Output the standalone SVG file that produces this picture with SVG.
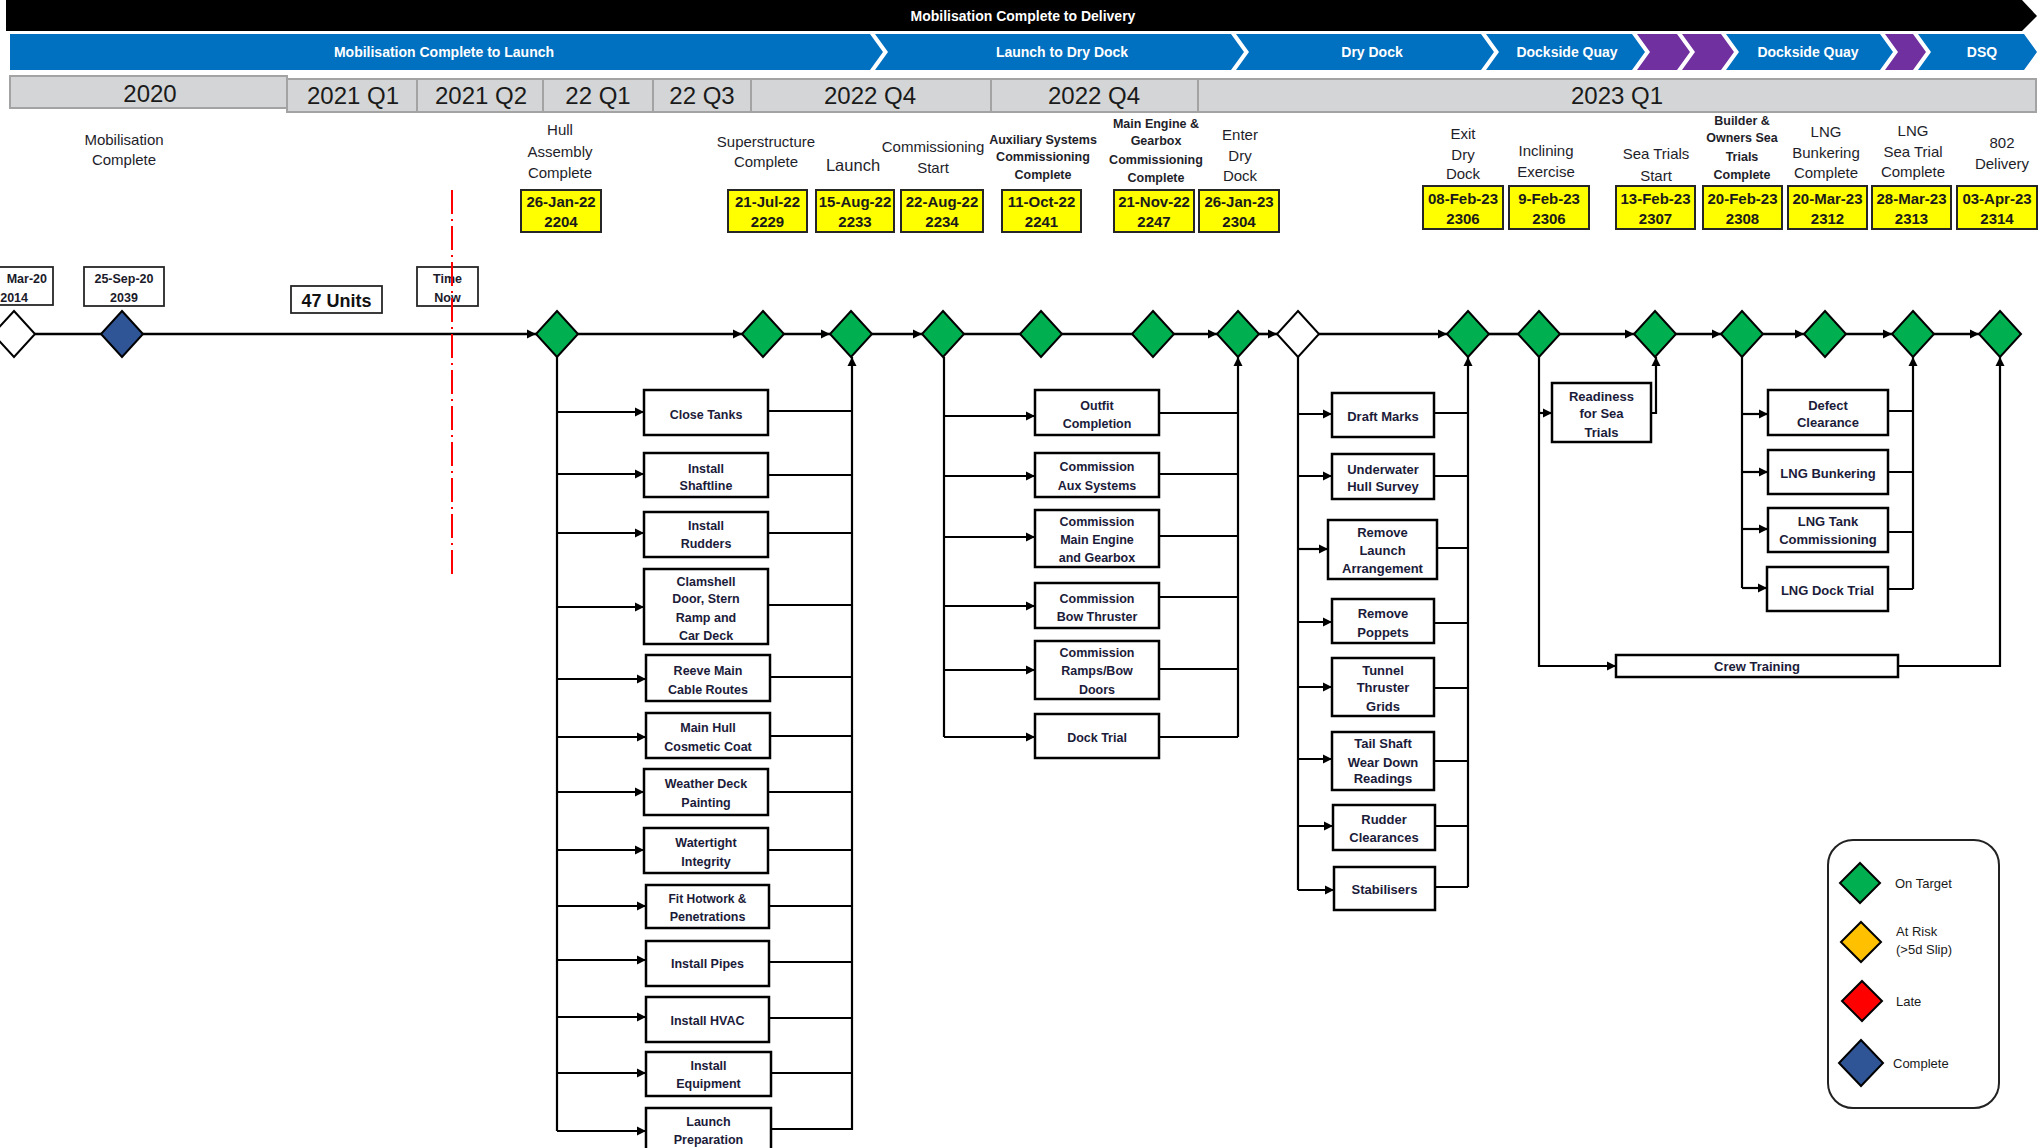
<svg xmlns="http://www.w3.org/2000/svg" width="2038" height="1148" viewBox="0 0 2038 1148">
<style>
text{font-family:"Liberation Sans",Arial,sans-serif}
.hd{fill:#fff;font-size:14px;font-weight:bold;text-anchor:middle}
.blue{fill:#0070C0}
.purp{fill:#7030A0}
.cell{fill:#D3D5D6;stroke:#A3A3A3;stroke-width:2}
.q{font-size:24px;fill:#1a1a1a;text-anchor:middle}
.lb{font-size:15px;fill:#1e1e2a;text-anchor:middle}
.lbb{font-size:12.5px;font-weight:bold;fill:#1e1e2a;text-anchor:middle}
.yb{fill:#FFFF00;stroke:#262626;stroke-width:2}
.yt{font-size:15px;font-weight:bold;fill:#1a1a1a;text-anchor:middle}
.wb{fill:#fff;stroke:#262626;stroke-width:1.8}
.st{font-size:12.5px;font-weight:bold;fill:#1a1a2a;text-anchor:middle}
.tb{fill:#fff;stroke:#000;stroke-width:2.5}
.tt{font-size:12.5px;font-weight:bold;fill:#1b1b3a;text-anchor:middle}
.t2{font-size:13px;font-weight:bold;fill:#1b1b3a;text-anchor:middle}
.g{fill:#00B050;stroke:#000;stroke-width:2}
.w{fill:#fff;stroke:#000;stroke-width:2}
.c{fill:#2F5597;stroke:#000;stroke-width:2}
.y{fill:#FFC000;stroke:#000;stroke-width:2}
.r{fill:#FF0000;stroke:#000;stroke-width:2}
.ln{fill:none;stroke:#000;stroke-width:2.2}
.mn{fill:none;stroke:#000;stroke-width:2.6}
.lg{font-size:13px;fill:#1a1a1a}
</style>
<defs>
<marker id="ah" viewBox="0 0 10 10" refX="10" refY="5" markerWidth="9" markerHeight="10" markerUnits="userSpaceOnUse" orient="auto"><path d="M0,0 L10,5 L0,10 z" fill="#000"/></marker>
<polygon id="d" points="0,-23 21,0 0,23 -21,0"/>
</defs>

<g id="header">
<polygon points="6,0 2022,0 2037,16 2022,31 6,31" fill="#000"/>
<text class="hd" x="1023" y="21">Mobilisation Complete to Delivery</text>
<polygon class="blue" points="10,34 870,34 883,52 870,70 10,70"/>
<polygon class="blue" points="875,34 1231,34 1244,52 1231,70 875,70 888,52"/>
<polygon class="blue" points="1236,34 1481,34 1494,52 1481,70 1236,70 1249,52"/>
<polygon class="blue" points="1486,34 1632,34 1645,52 1632,70 1486,70 1499,52"/>
<polygon class="purp" points="1637,34 1677,34 1690,52 1677,70 1637,70 1650,52"/>
<polygon class="purp" points="1682,34 1721,34 1734,52 1721,70 1682,70 1695,52"/>
<polygon class="blue" points="1726,34 1880,34 1893,52 1880,70 1726,70 1739,52"/>
<polygon class="purp" points="1885,34 1913,34 1926,52 1913,70 1885,70 1898,52"/>
<polygon class="blue" points="1918,34 2024,34 2037,52 2024,70 1918,70 1931,52"/>
<text class="hd" x="444" y="57">Mobilisation Complete to Launch</text>
<text class="hd" x="1062" y="57">Launch to Dry Dock</text>
<text class="hd" x="1372" y="57">Dry Dock</text>
<text class="hd" x="1567" y="57">Dockside Quay</text>
<text class="hd" x="1808" y="57">Dockside Quay</text>
<text class="hd" x="1982" y="57">DSQ</text>
</g>

<g id="quarters">
<rect class="cell" x="10" y="76" width="277" height="32"/>
<rect class="cell" x="287" y="79" width="130" height="33"/>
<rect class="cell" x="417" y="79" width="126" height="33"/>
<rect class="cell" x="543" y="79" width="110" height="33"/>
<rect class="cell" x="653" y="79" width="98" height="33"/>
<rect class="cell" x="751" y="79" width="240" height="33"/>
<rect class="cell" x="991" y="79" width="207" height="33"/>
<rect class="cell" x="1198" y="79" width="838" height="33"/>
<text class="q" x="150" y="102">2020</text>
<text class="q" x="353" y="104">2021 Q1</text>
<text class="q" x="481" y="104">2021 Q2</text>
<text class="q" x="598" y="104">22 Q1</text>
<text class="q" x="702" y="104">22 Q3</text>
<text class="q" x="870" y="104">2022 Q4</text>
<text class="q" x="1094" y="104">2022 Q4</text>
<text class="q" x="1617" y="104">2023 Q1</text>
</g>

<g id="connectors">
<path class="mn" d="M35,334 H101"/>
<path class="mn" d="M143,334 H536" marker-end="url(#ah)"/>
<path class="mn" d="M578,334 H742" marker-end="url(#ah)"/>
<path class="mn" d="M784,334 H830" marker-end="url(#ah)"/>
<path class="mn" d="M872,334 H922" marker-end="url(#ah)"/>
<path class="mn" d="M964,334 H1020"/>
<path class="mn" d="M1062,334 H1132"/>
<path class="mn" d="M1174,334 H1217" marker-end="url(#ah)"/>
<path class="mn" d="M1259,334 H1277" marker-end="url(#ah)"/>
<path class="mn" d="M1319,334 H1447" marker-end="url(#ah)"/>
<path class="mn" d="M1489,334 H1518"/>
<path class="mn" d="M1560,334 H1634" marker-end="url(#ah)"/>
<path class="mn" d="M1676,334 H1721" marker-end="url(#ah)"/>
<path class="mn" d="M1763,334 H1804" marker-end="url(#ah)"/>
<path class="mn" d="M1846,334 H1892" marker-end="url(#ah)"/>
<path class="mn" d="M1934,334 H1979" marker-end="url(#ah)"/>

<path class="ln" d="M557,357 V1131"/>
<path class="ln" d="M557,412 H644" marker-end="url(#ah)"/>
<path class="ln" d="M557,474 H644" marker-end="url(#ah)"/>
<path class="ln" d="M557,533 H644" marker-end="url(#ah)"/>
<path class="ln" d="M557,607 H644" marker-end="url(#ah)"/>
<path class="ln" d="M557,679 H646" marker-end="url(#ah)"/>
<path class="ln" d="M557,737 H646" marker-end="url(#ah)"/>
<path class="ln" d="M557,792 H644" marker-end="url(#ah)"/>
<path class="ln" d="M557,850 H644" marker-end="url(#ah)"/>
<path class="ln" d="M557,906 H646" marker-end="url(#ah)"/>
<path class="ln" d="M557,960 H646" marker-end="url(#ah)"/>
<path class="ln" d="M557,1017 H646" marker-end="url(#ah)"/>
<path class="ln" d="M557,1073 H646" marker-end="url(#ah)"/>
<path class="ln" d="M557,1131 H646" marker-end="url(#ah)"/>
<path class="ln" d="M768,411 H852 M768,475 H852 M768,533 H852 M768,605 H852 M770,677 H852 M770,736 H852 M768,792 H852 M768,850 H852 M769,906 H852 M769,962 H852 M769,1018 H852 M771,1073 H852 M771,1129 H852"/>
<path class="ln" d="M852,1130 V357" marker-end="url(#ah)"/>

<path class="ln" d="M944,357 V737"/>
<path class="ln" d="M944,416 H1035" marker-end="url(#ah)"/>
<path class="ln" d="M944,476 H1035" marker-end="url(#ah)"/>
<path class="ln" d="M944,537 H1035" marker-end="url(#ah)"/>
<path class="ln" d="M944,606 H1035" marker-end="url(#ah)"/>
<path class="ln" d="M944,670 H1035" marker-end="url(#ah)"/>
<path class="ln" d="M944,737 H1035" marker-end="url(#ah)"/>
<path class="ln" d="M1159,413 H1238 M1159,474 H1238 M1159,536 H1238 M1159,597 H1238 M1159,669 H1238 M1159,737 H1238"/>
<path class="ln" d="M1238,737 V357" marker-end="url(#ah)"/>

<path class="ln" d="M1298,357 V890"/>
<path class="ln" d="M1298,414 H1332" marker-end="url(#ah)"/>
<path class="ln" d="M1298,476 H1332" marker-end="url(#ah)"/>
<path class="ln" d="M1298,549 H1328" marker-end="url(#ah)"/>
<path class="ln" d="M1298,622 H1332" marker-end="url(#ah)"/>
<path class="ln" d="M1298,687 H1332" marker-end="url(#ah)"/>
<path class="ln" d="M1298,759 H1332" marker-end="url(#ah)"/>
<path class="ln" d="M1298,826 H1333" marker-end="url(#ah)"/>
<path class="ln" d="M1298,890 H1334" marker-end="url(#ah)"/>
<path class="ln" d="M1434,413 H1468 M1434,476 H1468 M1437,548 H1468 M1434,623 H1468 M1434,688 H1468 M1434,761 H1468 M1435,826 H1468 M1435,887 H1468"/>
<path class="ln" d="M1468,887 V357" marker-end="url(#ah)"/>

<path class="ln" d="M1539,357 V666 H1616" marker-end="url(#ah)"/>
<path class="ln" d="M1539,413 H1552" marker-end="url(#ah)"/>
<path class="ln" d="M1651,413 H1656 V357" marker-end="url(#ah)"/>
<path class="ln" d="M1898,666 H2000 V357" marker-end="url(#ah)"/>

<path class="ln" d="M1742,357 V588"/>
<path class="ln" d="M1742,414 H1768" marker-end="url(#ah)"/>
<path class="ln" d="M1742,472 H1768" marker-end="url(#ah)"/>
<path class="ln" d="M1742,529 H1768" marker-end="url(#ah)"/>
<path class="ln" d="M1742,588 H1767" marker-end="url(#ah)"/>
<path class="ln" d="M1888,411 H1913 M1888,472 H1913 M1888,532 H1913 M1888,589 H1913"/>
<path class="ln" d="M1913,589 V357" marker-end="url(#ah)"/>
</g>

<g id="m-start">
<use href="#d" class="w" x="14" y="334"/>
<rect class="wb" x="-2" y="267" width="55" height="38"/>
<text class="st" style="text-anchor:end" x="47" y="282.5">Mar-20</text>
<text class="st" style="text-anchor:end" x="28" y="301.5">2014</text>
</g>
<g id="m-mobilisation">
<use href="#d" class="c" x="122" y="334"/>
<rect class="wb" x="84" y="267" width="80" height="39"/>
<text class="st" x="124" y="282.5">25-Sep-20</text>
<text class="st" x="124" y="301.5">2039</text>
<text class="lb" x="124" y="144.5">Mobilisation</text>
<text class="lb" x="124" y="164.5">Complete</text>
</g>
<g id="units">
<rect class="wb" x="291" y="286" width="91" height="27"/>
<text x="336.5" y="306.5" style="font-size:18px;font-weight:bold;fill:#111;text-anchor:middle">47 Units</text>
</g>
<g id="time-now">
<rect class="wb" x="417" y="267" width="61" height="39"/>
<text class="st" x="447.5" y="282.5">Time</text>
<text class="st" x="447.5" y="301.5">Now</text>
<path d="M452,190 V578" fill="none" stroke="#FF0000" stroke-width="2" stroke-dasharray="24,5,2,5"/>
</g>

<g id="m-hull">
<use href="#d" class="g" x="557" y="334"/>
<text class="lb" x="560" y="134.5">Hull</text>
<text class="lb" x="560" y="156.5">Assembly</text>
<text class="lb" x="560" y="177.5">Complete</text>
<rect class="yb" x="521" y="190" width="80" height="42"/>
<text class="yt" x="561" y="206.5">26-Jan-22</text>
<text class="yt" x="561" y="226.5">2204</text>
</g>
<g id="m-super">
<use href="#d" class="g" x="763" y="334"/>
<text class="lb" x="766" y="146.5">Superstructure</text>
<text class="lb" x="766" y="166.5">Complete</text>
<rect class="yb" x="728" y="190" width="79" height="42"/>
<text class="yt" x="767.5" y="206.5">21-Jul-22</text>
<text class="yt" x="767.5" y="226.5">2229</text>
</g>
<g id="m-launch">
<use href="#d" class="g" x="851" y="334"/>
<text class="lb" style="font-size:16.5px" x="853" y="171">Launch</text>
<rect class="yb" x="816" y="190" width="78" height="42"/>
<text class="yt" x="855" y="206.5">15-Aug-22</text>
<text class="yt" x="855" y="226.5">2233</text>
</g>
<g id="m-comm-start">
<use href="#d" class="g" x="943" y="334"/>
<text class="lb" x="933" y="151.5">Commissioning</text>
<text class="lb" x="933" y="172.5">Start</text>
<rect class="yb" x="901" y="190" width="82" height="42"/>
<text class="yt" x="942" y="206.5">22-Aug-22</text>
<text class="yt" x="942" y="226.5">2234</text>
</g>
<g id="m-aux">
<use href="#d" class="g" x="1041" y="334"/>
<text class="lbb" x="1043" y="143.5">Auxiliary Systems</text>
<text class="lbb" x="1043" y="160.5">Commissioning</text>
<text class="lbb" x="1043" y="178.5">Complete</text>
<rect class="yb" x="1002" y="190" width="79" height="42"/>
<text class="yt" x="1041.5" y="206.5">11-Oct-22</text>
<text class="yt" x="1041.5" y="226.5">2241</text>
</g>
<g id="m-main-engine">
<use href="#d" class="g" x="1153" y="334"/>
<text class="lbb" x="1156" y="127.5">Main Engine &amp;</text>
<text class="lbb" x="1156" y="144.5">Gearbox</text>
<text class="lbb" x="1156" y="163.5">Commissioning</text>
<text class="lbb" x="1156" y="181.5">Complete</text>
<rect class="yb" x="1114" y="190" width="80" height="42"/>
<text class="yt" x="1154" y="206.5">21-Nov-22</text>
<text class="yt" x="1154" y="226.5">2247</text>
</g>
<g id="m-enter-dd">
<use href="#d" class="g" x="1238" y="334"/>
<text class="lb" x="1240" y="139.5">Enter</text>
<text class="lb" x="1240" y="160.5">Dry</text>
<text class="lb" x="1240" y="180.5">Dock</text>
<rect class="yb" x="1199" y="190" width="80" height="42"/>
<text class="yt" x="1239" y="206.5">26-Jan-23</text>
<text class="yt" x="1239" y="226.5">2304</text>
</g>
<g id="m-dd-start">
<use href="#d" class="w" x="1298" y="334"/>
</g>
<g id="m-exit-dd">
<use href="#d" class="g" x="1468" y="334"/>
<text class="lb" x="1463" y="138.5">Exit</text>
<text class="lb" x="1463" y="159.5">Dry</text>
<text class="lb" x="1463" y="178.5">Dock</text>
<rect class="yb" x="1423" y="186" width="80" height="43"/>
<text class="yt" x="1463" y="203.5">08-Feb-23</text>
<text class="yt" x="1463" y="223.5">2306</text>
</g>
<g id="m-inclining">
<use href="#d" class="g" x="1539" y="334"/>
<text class="lb" x="1546" y="155.5">Inclining</text>
<text class="lb" x="1546" y="176.5">Exercise</text>
<rect class="yb" x="1509" y="186" width="80" height="43"/>
<text class="yt" x="1549" y="203.5">9-Feb-23</text>
<text class="yt" x="1549" y="223.5">2306</text>
</g>
<g id="m-sea-trials">
<use href="#d" class="g" x="1655" y="334"/>
<text class="lb" x="1656" y="158.5">Sea Trials</text>
<text class="lb" x="1656" y="180.5">Start</text>
<rect class="yb" x="1616" y="186" width="79" height="43"/>
<text class="yt" x="1655.5" y="203.5">13-Feb-23</text>
<text class="yt" x="1655.5" y="223.5">2307</text>
</g>
<g id="m-builder">
<use href="#d" class="g" x="1742" y="334"/>
<text class="lbb" x="1742" y="124.5">Builder &amp;</text>
<text class="lbb" x="1742" y="141.5">Owners Sea</text>
<text class="lbb" x="1742" y="160.5">Trials</text>
<text class="lbb" x="1742" y="178.5">Complete</text>
<rect class="yb" x="1703" y="186" width="79" height="43"/>
<text class="yt" x="1742.5" y="203.5">20-Feb-23</text>
<text class="yt" x="1742.5" y="223.5">2308</text>
</g>
<g id="m-lng-bunk">
<use href="#d" class="g" x="1825" y="334"/>
<text class="lb" x="1826" y="136.5">LNG</text>
<text class="lb" x="1826" y="157.5">Bunkering</text>
<text class="lb" x="1826" y="177.5">Complete</text>
<rect class="yb" x="1788" y="186" width="79" height="43"/>
<text class="yt" x="1827.5" y="203.5">20-Mar-23</text>
<text class="yt" x="1827.5" y="223.5">2312</text>
</g>
<g id="m-lng-sea">
<use href="#d" class="g" x="1913" y="334"/>
<text class="lb" x="1913" y="135.5">LNG</text>
<text class="lb" x="1913" y="156.5">Sea Trial</text>
<text class="lb" x="1913" y="176.5">Complete</text>
<rect class="yb" x="1872" y="186" width="79" height="43"/>
<text class="yt" x="1911.5" y="203.5">28-Mar-23</text>
<text class="yt" x="1911.5" y="223.5">2313</text>
</g>
<g id="m-delivery">
<use href="#d" class="g" x="2000" y="334"/>
<text class="lb" x="2002" y="147.5">802</text>
<text class="lb" x="2002" y="168.5">Delivery</text>
<rect class="yb" x="1957" y="186" width="80" height="43"/>
<text class="yt" x="1997" y="203.5">03-Apr-23</text>
<text class="yt" x="1997" y="223.5">2314</text>
</g>

<g id="t-close-tanks"><rect class="tb" x="644" y="390" width="124" height="45"/><text class="tt" x="706" y="418.5">Close Tanks</text></g>
<g id="t-shaftline"><rect class="tb" x="644" y="453" width="124" height="44"/><text class="tt" x="706" y="472.5">Install</text><text class="tt" x="706" y="489.5">Shaftline</text></g>
<g id="t-rudders"><rect class="tb" x="644" y="512" width="124" height="45"/><text class="tt" x="706" y="529.5">Install</text><text class="tt" x="706" y="547.5">Rudders</text></g>
<g id="t-clamshell"><rect class="tb" x="644" y="569" width="124" height="75"/><text class="tt" x="706" y="585.5">Clamshell</text><text class="tt" x="706" y="602.5">Door, Stern</text><text class="tt" x="706" y="621.5">Ramp and</text><text class="tt" x="706" y="639.5">Car Deck</text></g>
<g id="t-reeve"><rect class="tb" x="646" y="655" width="124" height="46"/><text class="tt" x="708" y="674.5">Reeve Main</text><text class="tt" x="708" y="693.5">Cable Routes</text></g>
<g id="t-cosmetic"><rect class="tb" x="646" y="713" width="124" height="45"/><text class="tt" x="708" y="731.5">Main Hull</text><text class="tt" x="708" y="750.5">Cosmetic Coat</text></g>
<g id="t-weather"><rect class="tb" x="644" y="769" width="124" height="46"/><text class="tt" x="706" y="787.5">Weather Deck</text><text class="tt" x="706" y="806.5">Painting</text></g>
<g id="t-watertight"><rect class="tb" x="644" y="828" width="124" height="45"/><text class="tt" x="706" y="846.5">Watertight</text><text class="tt" x="706" y="865.5">Integrity</text></g>
<g id="t-hotwork"><rect class="tb" x="646" y="885" width="123" height="43"/><text class="tt" style="font-size:12px" x="707.5" y="902.5">Fit Hotwork &amp;</text><text class="tt" x="707.5" y="920.5">Penetrations</text></g>
<g id="t-pipes"><rect class="tb" x="646" y="941" width="123" height="45"/><text class="tt" x="707.5" y="967.5">Install Pipes</text></g>
<g id="t-hvac"><rect class="tb" x="646" y="997" width="123" height="45"/><text class="tt" x="707.5" y="1024.5">Install HVAC</text></g>
<g id="t-equipment"><rect class="tb" x="646" y="1052" width="125" height="44"/><text class="tt" x="708.5" y="1069.5">Install</text><text class="tt" x="708.5" y="1087.5">Equipment</text></g>
<g id="t-launch-prep"><rect class="tb" x="646" y="1108" width="125" height="50"/><text class="tt" x="708.5" y="1125.5">Launch</text><text class="tt" x="708.5" y="1143.5">Preparation</text></g>

<g id="t-outfit"><rect class="tb" x="1035" y="390" width="124" height="45"/><text class="tt" x="1097" y="409.5">Outfit</text><text class="tt" x="1097" y="427.5">Completion</text></g>
<g id="t-aux"><rect class="tb" x="1035" y="453" width="124" height="44"/><text class="tt" x="1097" y="470.5">Commission</text><text class="tt" x="1097" y="489.5">Aux Systems</text></g>
<g id="t-main-engine"><rect class="tb" x="1035" y="510" width="124" height="57"/><text class="tt" x="1097" y="525.5">Commission</text><text class="tt" x="1097" y="543.5">Main Engine</text><text class="tt" x="1097" y="561.5">and Gearbox</text></g>
<g id="t-bow-thruster"><rect class="tb" x="1035" y="583" width="124" height="45"/><text class="tt" x="1097" y="602.5">Commission</text><text class="tt" x="1097" y="620.5">Bow Thruster</text></g>
<g id="t-ramps"><rect class="tb" x="1035" y="641" width="124" height="58"/><text class="tt" x="1097" y="656.5">Commission</text><text class="tt" x="1097" y="674.5">Ramps/Bow</text><text class="tt" x="1097" y="693.5">Doors</text></g>
<g id="t-dock-trial"><rect class="tb" x="1035" y="714" width="124" height="44"/><text class="tt" x="1097" y="741.5">Dock Trial</text></g>

<g id="t-draft"><rect class="tb" x="1332" y="393" width="102" height="44"/><text class="t2" x="1383" y="420.5">Draft Marks</text></g>
<g id="t-underwater"><rect class="tb" x="1332" y="454" width="102" height="45"/><text class="t2" x="1383" y="473.5">Underwater</text><text class="t2" x="1383" y="490.5">Hull Survey</text></g>
<g id="t-remove-launch"><rect class="tb" x="1328" y="520" width="109" height="59"/><text class="t2" x="1382.5" y="536.5">Remove</text><text class="t2" x="1382.5" y="554.5">Launch</text><text class="t2" x="1382.5" y="572.5">Arrangement</text></g>
<g id="t-poppets"><rect class="tb" x="1332" y="599" width="102" height="44"/><text class="t2" x="1383" y="617.5">Remove</text><text class="t2" x="1383" y="636.5">Poppets</text></g>
<g id="t-tunnel"><rect class="tb" x="1332" y="658" width="102" height="58"/><text class="t2" x="1383" y="674.5">Tunnel</text><text class="t2" x="1383" y="691.5">Thruster</text><text class="t2" x="1383" y="710.5">Grids</text></g>
<g id="t-tailshaft"><rect class="tb" x="1332" y="732" width="102" height="58"/><text class="t2" x="1383" y="747.5">Tail Shaft</text><text class="t2" x="1383" y="766.5">Wear Down</text><text class="t2" x="1383" y="782.5">Readings</text></g>
<g id="t-rudder-clear"><rect class="tb" x="1333" y="805" width="102" height="45"/><text class="t2" x="1384" y="823.5">Rudder</text><text class="t2" x="1384" y="841.5">Clearances</text></g>
<g id="t-stabilisers"><rect class="tb" x="1334" y="867" width="101" height="43"/><text class="t2" x="1384.5" y="893.5">Stabilisers</text></g>

<g id="t-readiness"><rect class="tb" x="1552" y="383" width="99" height="59"/><text class="t2" x="1601.5" y="400.5">Readiness</text><text class="t2" x="1601.5" y="417.5">for Sea</text><text class="t2" x="1601.5" y="436.5">Trials</text></g>
<g id="t-crew"><rect class="tb" x="1616" y="655" width="282" height="22"/><text class="t2" x="1757" y="670.5">Crew Training</text></g>
<g id="t-defect"><rect class="tb" x="1768" y="390" width="120" height="45"/><text class="t2" x="1828" y="409.5">Defect</text><text class="t2" x="1828" y="426.5">Clearance</text></g>
<g id="t-lng-bunkering"><rect class="tb" x="1768" y="450" width="120" height="44"/><text class="t2" x="1828" y="477.5">LNG Bunkering</text></g>
<g id="t-lng-tank"><rect class="tb" x="1768" y="508" width="120" height="44"/><text class="t2" x="1828" y="525.5">LNG Tank</text><text class="t2" x="1828" y="543.5">Commissioning</text></g>
<g id="t-lng-dock"><rect class="tb" x="1767" y="567" width="121" height="44"/><text class="t2" x="1827.5" y="594.5">LNG Dock Trial</text></g>

<g id="legend">
<rect x="1828" y="840" width="171" height="268" rx="25" ry="25" fill="#fff" stroke="#222" stroke-width="2"/>
<polygon class="g" points="1860,863 1880,883 1860,903 1840,883"/>
<polygon class="y" points="1861,922 1881,942 1861,962 1841,942"/>
<polygon class="r" points="1862,981 1882,1001 1862,1021 1842,1001"/>
<polygon class="c" points="1861,1040 1883,1063 1861,1086 1839,1063"/>
<text class="lg" x="1895" y="887.5">On Target</text>
<text class="lg" x="1896" y="935.5">At Risk</text>
<text class="lg" x="1896" y="953.5">(&gt;5d Slip)</text>
<text class="lg" x="1896" y="1005.5">Late</text>
<text class="lg" x="1893" y="1067.5">Complete</text>
</g>
</svg>
